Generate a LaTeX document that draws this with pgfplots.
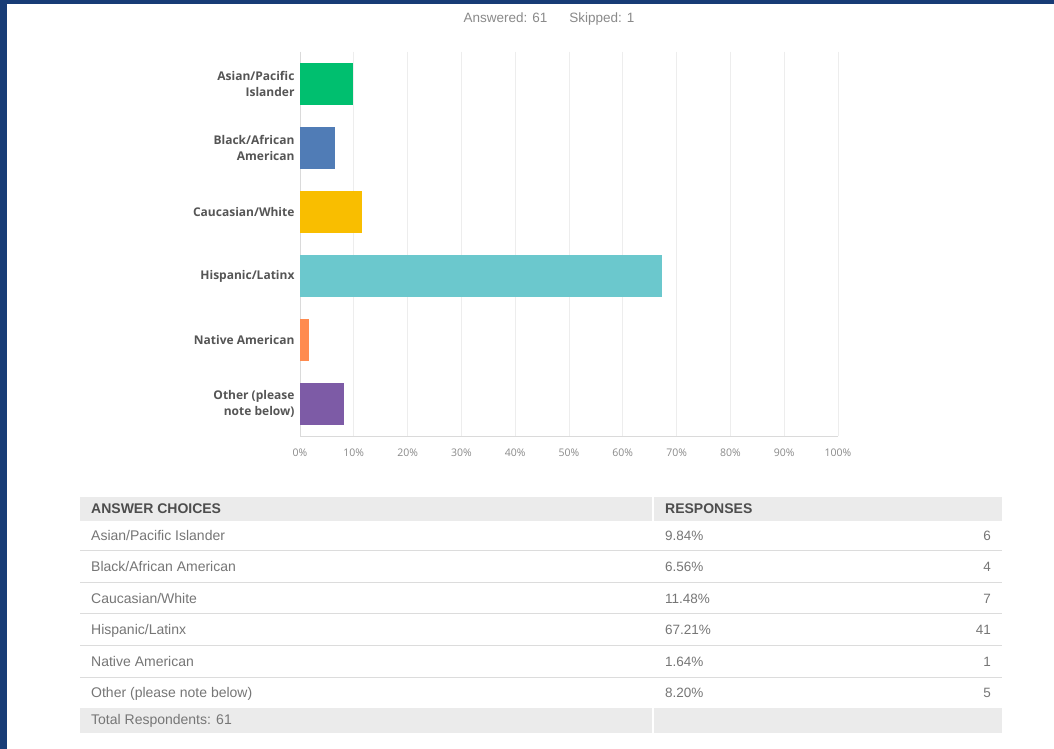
\documentclass[border=0pt]{standalone}
\usepackage{pgfplots}
\pgfplotsset{compat=1.18}
\usepackage{fontspec}
\setmainfont{Liberation Sans}
\newfontfamily\osans{Open Sans}
\definecolor{navy}{RGB}{24,60,118}
\definecolor{cgreen}{HTML}{00BF6F}
\definecolor{cblue}{HTML}{507CB6}
\definecolor{cyellow}{HTML}{F9BE00}
\definecolor{cteal}{HTML}{6BC8CD}
\definecolor{corange}{HTML}{FF8B4F}
\definecolor{cpurple}{HTML}{7D5BA6}
\definecolor{gridgray}{HTML}{EDEDED}
\definecolor{axisgray}{HTML}{DADADA}
\definecolor{tickgray}{HTML}{8A8A8A}
\definecolor{labgray}{HTML}{555555}
\definecolor{hdrbg}{HTML}{EBEBEB}
\definecolor{rowline}{HTML}{DCDCDC}
\definecolor{rowtext}{HTML}{767676}
\definecolor{hdrtext}{HTML}{4D4D4D}
\begin{document}
\begin{tikzpicture}[x=1pt,y=1pt]
\fill[white] (0,0) rectangle (1054,749);
\fill[navy] (0,0) rectangle (7,749);
\fill[navy] (0,745) rectangle (1054,749);
\node[anchor=base, text=tickgray, font=\fontsize{13.5}{15}\selectfont] at (549,749-23) {Answered: 61\hspace{22pt}Skipped: 1};
\begin{axis}[
  at={(300pt,313pt)}, anchor=south west,
  scale only axis, width=538pt, height=384pt,
  xmin=0, xmax=100, ymin=0.5, ymax=6.5, y dir=reverse,
  xbar, bar width=42pt, bar shift=0pt,
  xtick={0,10,...,100},
  xticklabels={0\%,10\%,20\%,30\%,40\%,50\%,60\%,70\%,80\%,90\%,100\%},
  ytick={1,...,6},
  yticklabels={{Asian/Pacific\\Islander},{Black/African\\American},{Caucasian/White},{Hispanic/Latinx},{Native American},{Other (please\\note below)}},
  major tick length=0pt,
  xticklabel style={font=\osans\fontsize{10.5}{12}\selectfont, text=tickgray, yshift=-9pt},
  yticklabel style={font=\osans\bfseries\fontsize{12}{15.5}\selectfont, text=labgray, align=right, xshift=-2pt},
  xmajorgrids, grid style={draw=gridgray, line width=0.9pt},
  axis x line*=bottom, axis y line*=left,
  axis line style={-, draw=axisgray, line width=0.9pt},
]
\addplot[fill=cgreen, draw=none] coordinates {(9.84,1)};
\addplot[fill=cblue, draw=none] coordinates {(6.56,2)};
\addplot[fill=cyellow, draw=none] coordinates {(11.48,3)};
\addplot[fill=cteal, draw=none] coordinates {(67.21,4)};
\addplot[fill=corange, draw=none] coordinates {(1.64,5)};
\addplot[fill=cpurple, draw=none] coordinates {(8.20,6)};
\end{axis}
% table
\fill[hdrbg] (80,749-497) rectangle (1002,749-521);
\fill[hdrbg] (80,749-708) rectangle (1002,749-733);
\draw[white, line width=1.5pt] (653,749-497) -- (653,749-521);
\draw[white, line width=1.5pt] (653,749-708) -- (653,749-733);
\foreach \yy in {551,583,614,646,678}{\draw[rowline, line width=1pt] (80,749-\yy) -- (1002,749-\yy);}
\node[anchor=base west, inner sep=0pt, text=hdrtext, font=\bfseries\fontsize{14}{16}\selectfont] at (91,749-514) {ANSWER CHOICES};
\node[anchor=base west, inner sep=0pt, text=hdrtext, font=\bfseries\fontsize{14}{16}\selectfont] at (665,749-514) {RESPONSES};
\foreach \yc/\lab/\pct/\cnt in {
  536/{Asian/Pacific Islander}/9.84\%/6,
  567/{Black/African American}/6.56\%/4,
  598.5/{Caucasian/White}/11.48\%/7,
  630/{Hispanic/Latinx}/67.21\%/41,
  662/{Native American}/1.64\%/1,
  693/{Other (please note below)}/8.20\%/5}{
  \node[anchor=base west, inner sep=0pt, text=rowtext, font=\fontsize{14}{16}\selectfont] at (91,749-\yc-5) {\lab};
  \node[anchor=base west, inner sep=0pt, text=rowtext, font=\fontsize{13.5}{15}\selectfont] at (665,749-\yc-5) {\pct};
  \node[anchor=base east, inner sep=0pt, text=rowtext, font=\fontsize{13.5}{15}\selectfont] at (991,749-\yc-5) {\cnt};
}
\node[anchor=base west, inner sep=0pt, text=rowtext, font=\fontsize{14}{16}\selectfont] at (91,749-725) {Total Respondents: 61};
\pgfresetboundingbox
\path[use as bounding box] (0,0) rectangle (1054,749);
\end{tikzpicture}
\end{document}
